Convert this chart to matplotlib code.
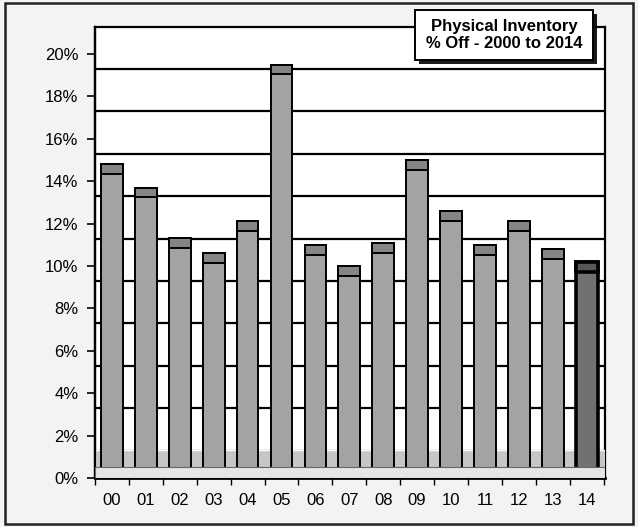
import matplotlib.pyplot as plt
import matplotlib.patheffects as pe
from matplotlib.patches import Rectangle
import numpy as np

plt.rcParams["font.family"] = ["Liberation Sans", "DejaVu Sans"]

# data
years = ["00", "01", "02", "03", "04", "05", "06", "07",
         "08", "09", "10", "11", "12", "13", "14"]
pct_off = [14.8, 13.7, 11.3, 10.6, 12.1, 19.5, 11.0, 10.0,
           11.1, 15.0, 12.6, 11.0, 12.1, 10.8, 10.2]
y_ticks = list(range(0, 21, 2))

W, H = 638, 527
fig = plt.figure(figsize=(W / 100, H / 100), dpi=100)
fig.patch.set_facecolor("#f3f3f3")

# plot area in pixels: x 95..605, y 27..478
pos = [95 / W, (H - 478) / H, 510 / W, 451 / H]
ax_back = fig.add_axes(pos)
ax = fig.add_axes(pos, sharex=ax_back)
ax_back.set_zorder(0)
ax.set_zorder(1)
ax.patch.set_visible(False)

x = np.arange(len(years))
ax.set_xlim(-0.46, 14.54)
ax.set_ylim(0, 21.27)

# back wall: gridlines sit a little lower than the front scale (3D look)
shift = 15 / 21.2
ax_back.set_ylim(shift, 21.27 + shift)
ax_back.set_facecolor("white")
ax_back.set_yticks(y_ticks[1:])
ax_back.grid(axis="y", color="black", linewidth=1.6)
ax_back.tick_params(left=False, labelleft=False, bottom=False, labelbottom=False)
for side in ["left", "right", "top"]:
    ax_back.spines[side].set_linewidth(1.6)
ax_back.spines["bottom"].set_visible(False)

# floor
ax.axhspan(0, 1.32, facecolor="#c6c6c6", edgecolor="white", linewidth=1, zorder=0.5)

face = ["#a3a3a3"] * (len(years) - 1) + ["#717171"]
cap = ["#858585"] * (len(years) - 1) + ["#575757"]
lw = [1.4] * (len(years) - 1) + [2.6]
ax.bar(x, pct_off, width=0.64, color=face, edgecolor="black", linewidth=lw, zorder=2)
ax.bar(x, [0.47] * len(years), bottom=np.array(pct_off) - 0.47, width=0.64,
       color=cap, edgecolor="black", linewidth=lw, zorder=3)

# front edge of floor
ax.axhspan(0, 0.5, facecolor="#e6e6e6", edgecolor="#666666", linewidth=0.8, zorder=4)

ax.set_yticks(y_ticks)
ax.set_yticklabels([f"{t}%" for t in y_ticks])
ax.set_xticks(x)
ax.set_xticklabels(years)
ax.set_xticks(np.arange(-0.5, len(years), 1), minor=True)
ax.tick_params(axis="y", direction="out", length=6, width=1.2, pad=6, labelsize=12)
ax.tick_params(axis="x", which="major", length=0, pad=11, labelsize=12)
ax.tick_params(axis="x", which="minor", direction="out", length=5, width=1)
for side in ["right", "top"]:
    ax.spines[side].set_visible(False)
ax.spines["left"].set_linewidth(1.6)
ax.spines["bottom"].set_linewidth(2)

# title box with drop shadow
box = Rectangle((415 / W, 1 - 60 / H), 178 / W, 50 / H, transform=fig.transFigure,
                facecolor="white", edgecolor="black", linewidth=1.4, zorder=10)
box.set_path_effects([pe.SimplePatchShadow(offset=(3, -3), shadow_rgbFace="black", alpha=0.9),
                      pe.Normal()])
fig.add_artist(box)
fig.text(504 / W, 1 - 35 / H, "Physical Inventory\n% Off - 2000 to 2014",
         ha="center", va="center", fontsize=12, fontweight="bold",
         linespacing=1.1, zorder=11)

# outer frame of the scanned page
fig.add_artist(Rectangle((5 / W, 3 / H), 628 / W, 521 / H, transform=fig.transFigure,
                         facecolor="none", edgecolor="#222222", linewidth=1.8))

fig.savefig("out.png", dpi=100, facecolor=fig.get_facecolor())
